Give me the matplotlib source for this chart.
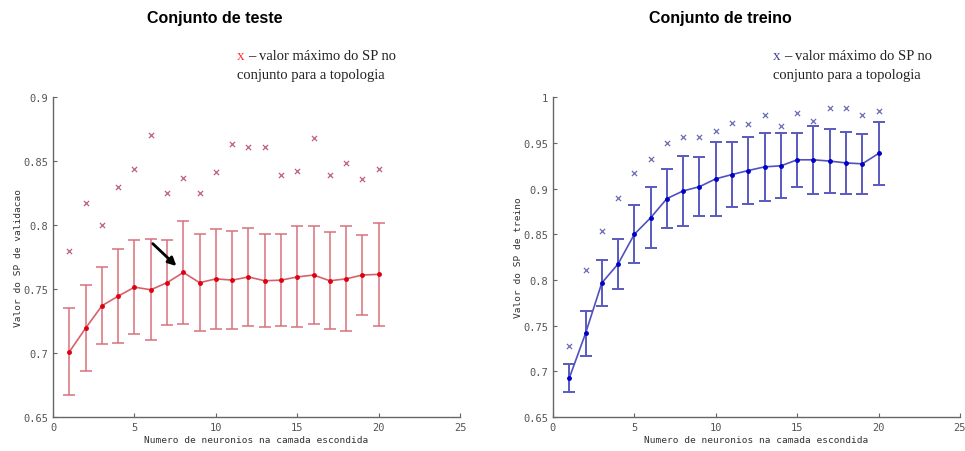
import numpy as np
import matplotlib.pyplot as plt

# neurons in hidden layer
neurons = list(range(1, 21))

# test set: mean SP, std, max SP
teste_media = [0.701, 0.7195, 0.737, 0.7445, 0.7515, 0.7495, 0.755, 0.763, 0.755, 0.758,
               0.757, 0.7595, 0.7565, 0.757, 0.7595, 0.761, 0.7565, 0.758, 0.761, 0.7615]
teste_std = [0.034, 0.0335, 0.030, 0.0365, 0.0365, 0.0395, 0.033, 0.040, 0.038, 0.039,
             0.038, 0.0385, 0.0365, 0.036, 0.0395, 0.038, 0.0378, 0.041, 0.031, 0.040]
teste_max = [0.780, 0.817, 0.800, 0.830, 0.8435, 0.870, 0.825, 0.837, 0.825, 0.8414,
             0.863, 0.861, 0.861, 0.839, 0.842, 0.868, 0.839, 0.8485, 0.836, 0.8435]

# training set: mean SP, std, max SP
treino_media = [0.6925, 0.7415, 0.7967, 0.8175, 0.850, 0.868, 0.889, 0.8974, 0.902, 0.9106,
                0.9153, 0.9197, 0.9237, 0.9248, 0.9314, 0.9314, 0.930, 0.928, 0.927, 0.9383]
treino_std = [0.0152, 0.0247, 0.0255, 0.027, 0.0318, 0.0335, 0.0323, 0.0385, 0.0325, 0.0404,
              0.0359, 0.0367, 0.0373, 0.0355, 0.0295, 0.0371, 0.0348, 0.034, 0.0325, 0.0345]
treino_max = [0.7276, 0.8105, 0.8536, 0.890, 0.917, 0.932, 0.950, 0.9566, 0.9566, 0.9628,
              0.972, 0.971, 0.980, 0.9686, 0.983, 0.974, 0.988, 0.988, 0.980, 0.985]

mono = 'DejaVu Sans Mono'
grey = '#555555'

fig = plt.figure(figsize=(9.65, 4.52), dpi=100)
ax1 = fig.add_axes([0.055, 0.075, 0.4218, 0.708])
ax2 = fig.add_axes([0.573, 0.075, 0.4218, 0.708])


def estilo(ax, ylim, yticks, ylabel):
    ax.set_xlim(0, 25)
    ax.set_ylim(*ylim)
    ax.set_xticks([0, 5, 10, 15, 20, 25])
    ax.set_yticks(yticks)
    ax.set_yticklabels([('%g' % v) for v in yticks])
    for s in ['top', 'right']:
        ax.spines[s].set_visible(False)
    for s in ['left', 'bottom']:
        ax.spines[s].set_color('#666666')
        ax.spines[s].set_linewidth(1.0)
    ax.tick_params(direction='in', length=3, color='#666666', labelcolor=grey,
                   labelsize=7.5)
    for lab in ax.get_xticklabels() + ax.get_yticklabels():
        lab.set_family(mono)
    ax.set_xlabel('Numero de neuronios na camada escondida', fontsize=6.8,
                  family=mono, color='#333333', labelpad=2)
    ax.set_ylabel(ylabel, fontsize=6.8, family=mono, color='#333333', labelpad=0)


# Test panel
ax1.errorbar(neurons, teste_media, yerr=teste_std, color='#d9606a', ecolor='#d9707a',
             elinewidth=1.1, capsize=4, capthick=1.1, lw=1.2,
             marker='.', ms=5, mfc='#e00010', mec='#e00010')
ax1.scatter(neurons, teste_max, marker='x', s=14, color='#c0607a', linewidths=0.9)
ax1.annotate('', xy=(7.7, 0.7665), xytext=(6.0, 0.787),
             arrowprops=dict(arrowstyle='-|>', color='black', lw=2, mutation_scale=12))
estilo(ax1, (0.65, 0.9), [0.65, 0.7, 0.75, 0.8, 0.85, 0.9], 'Valor do SP de validacao')

# Training panel
ax2.errorbar(neurons, treino_media, yerr=treino_std, color='#5050c0', ecolor='#5a5ac0',
             elinewidth=1.4, capsize=4, capthick=1.4, lw=1.2,
             marker='.', ms=5, mfc='#0000cc', mec='#0000cc')
ax2.scatter(neurons, treino_max, marker='x', s=14, color='#6a6ab8', linewidths=0.9)
estilo(ax2, (0.65, 1.0), [0.65, 0.7, 0.75, 0.8, 0.85, 0.9, 0.95, 1.0], 'Valor do SP de treino')

# titles
fig.text(215 / 965, 1 - 18 / 452, 'Conjunto de teste', ha='center', va='center',
         fontsize=11.5, fontweight='bold', family='Liberation Sans')
fig.text(720 / 965, 1 - 18 / 452, 'Conjunto de treino', ha='center', va='center',
         fontsize=11.5, fontweight='bold', family='Liberation Sans')

# legend-like notes
for x0, cor in [(237, '#ff3030'), (773, '#4040a0')]:
    fig.text(x0 / 965, 1 - 57 / 452, 'x', color=cor, fontsize=11,
             family='Liberation Serif', va='center')
    fig.text((x0 + 11) / 965, 1 - 57 / 452, '– valor máximo do SP no', color='#222222',
             fontsize=10.5, family='Liberation Serif', va='center')
    fig.text(x0 / 965, 1 - 76 / 452, 'conjunto para a topologia', color='#222222',
             fontsize=10.5, family='Liberation Serif', va='center')

plt.savefig('out.png', dpi=100)
